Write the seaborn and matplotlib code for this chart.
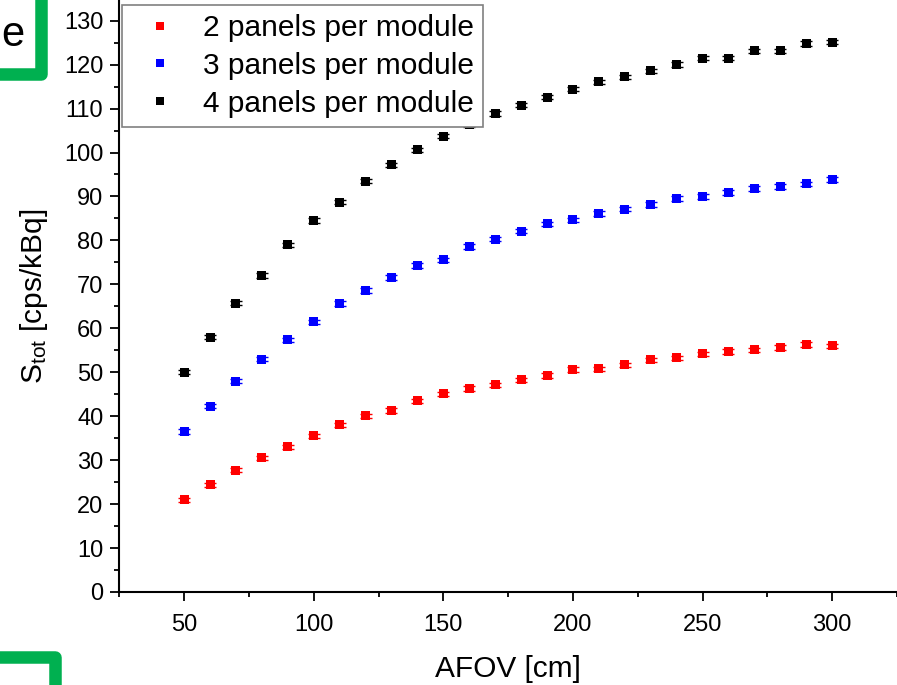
import numpy as np
import pandas as pd
import matplotlib.pyplot as plt
import seaborn as sns
from matplotlib.ticker import MultipleLocator
from matplotlib.patches import Rectangle

afov = [50, 60, 70, 80, 90, 100, 110, 120, 130, 140, 150, 160, 170,
        180, 190, 200, 210, 220, 230, 240, 250, 260, 270, 280, 290, 300]

s_2panels = [21.0, 24.4, 27.7, 30.5, 33.0, 35.5, 38.0, 40.1, 41.3, 43.5, 45.1, 46.3, 47.1,
             48.3, 49.3, 50.6, 50.8, 51.7, 52.8, 53.3, 54.2, 54.7, 55.1, 55.6, 56.3, 56.0]
s_3panels = [36.5, 42.3, 48.0, 53.0, 57.4, 61.5, 65.6, 68.6, 71.6, 74.3, 75.6, 78.6, 80.3,
             82.1, 83.8, 84.7, 86.1, 87.1, 88.2, 89.5, 90.0, 90.9, 91.8, 92.3, 92.9, 93.9]
s_4panels = [50.0, 58.0, 65.7, 72.0, 79.0, 84.5, 88.7, 93.5, 97.2, 100.6, 103.7, 106.4, 108.9,
             110.8, 112.6, 114.4, 116.1, 117.2, 118.6, 120.0, 121.5, 121.5, 123.1, 123.1, 124.8, 125.1]
s_err = 0.5

labels = ['2 panels per module', '3 panels per module', '4 panels per module']
colors = ['#ff0000', '#0000ff', '#000000']

df = pd.DataFrame({
    'AFOV': afov * 3,
    'S': s_2panels + s_3panels + s_4panels,
    'series': [labels[0]] * len(afov) + [labels[1]] * len(afov) + [labels[2]] * len(afov),
})

sns.set_style('ticks')
plt.rcParams['font.family'] = ['Liberation Sans', 'DejaVu Sans']
plt.rcParams['mathtext.fontset'] = 'custom'
plt.rcParams['mathtext.rm'] = 'Liberation Sans'
plt.rcParams['mathtext.it'] = 'Liberation Sans:italic'
plt.rcParams['text.color'] = 'black'
plt.rcParams['axes.labelcolor'] = 'black'

fig = plt.figure(figsize=(8.97, 6.85), dpi=100)
ax = fig.add_axes([119.3 / 897, 93 / 685, 1 - 119.3 / 897, 592 / 685])

# error bars first, markers on top
for vals, c in zip([s_2panels, s_3panels, s_4panels], colors):
    ax.errorbar(afov, vals, yerr=s_err, fmt='none', ecolor=c, elinewidth=1,
                capsize=4.5, capthick=1, zorder=2)

sns.scatterplot(data=df, x='AFOV', y='S', hue='series', palette=colors,
                marker='s', s=42, linewidth=0, ax=ax, zorder=3)

ax.set_xlim(25, 325)
ax.set_ylim(0, 134.7)
ax.xaxis.set_major_locator(MultipleLocator(50))
ax.xaxis.set_minor_locator(MultipleLocator(25))
ax.yaxis.set_major_locator(MultipleLocator(10))
ax.yaxis.set_minor_locator(MultipleLocator(5))
ax.tick_params(which='major', direction='out', length=6.5, width=1.3, labelsize=17, colors='black')
ax.tick_params(which='minor', direction='out', length=3.5, width=1.3, colors='black')
ax.tick_params(axis='x', which='major', pad=9)
ax.tick_params(axis='y', which='major', pad=5)
for side in ['top', 'right']:
    ax.spines[side].set_visible(False)
for side in ['left', 'bottom']:
    ax.spines[side].set_linewidth(1.5)
    ax.spines[side].set_color('black')

ax.set_xlabel('AFOV [cm]', fontsize=21.5, labelpad=14)
ax.set_ylabel(r'S$_{\mathrm{tot}}$ [cps/kBq]', fontsize=21.5, labelpad=10)

handles, _ = ax.get_legend_handles_labels()
leg = ax.legend(handles, labels, loc='upper left', bbox_to_anchor=(3 / 777.7, 1 - 5 / 592),
                borderaxespad=0, fontsize=21.5, frameon=True, fancybox=False,
                edgecolor='#808080', framealpha=1, borderpad=0.3, labelspacing=0.33,
                handlelength=1.9, handletextpad=0.5, markerscale=0.8)
leg.get_frame().set_linewidth(1.2)

# green annotation marks from the screenshot
green = '#00b050'
fig.patches.append(Rectangle((-30 / 897, 1 - 74 / 685), 71 / 897, 110 / 685, transform=fig.transFigure,
                             fill=False, edgecolor=green, linewidth=9, joinstyle='round'))
fig.text(1 / 897, 1 - 35 / 685, 'e', fontsize=30, ha='left', va='center')
fig.patches.append(Rectangle((-30 / 897, -40 / 685), 85 / 897, 68 / 685, transform=fig.transFigure,
                             fill=False, edgecolor=green, linewidth=9, joinstyle='round'))

fig.savefig('out.png', dpi=100)
